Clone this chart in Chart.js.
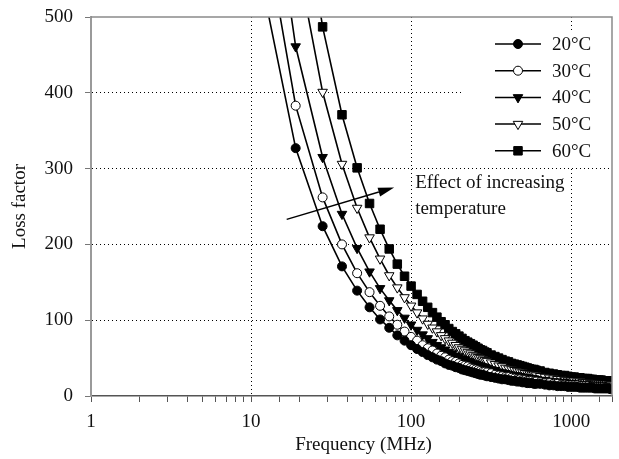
<!DOCTYPE html>
<html>
<head>
<meta charset="utf-8">
<title>Loss factor vs frequency</title>
<script src="https://cdn.jsdelivr.net/npm/chart.js@4.4.1/dist/chart.umd.min.js"></script>
<style>
  html, body { margin: 0; padding: 0; background: #fff; }
  #wrap { width: 619px; height: 459px; }
</style>
</head>
<body>
<div id="wrap"><canvas id="lossChart" width="619" height="459"></canvas></div>
<script>
// Frequency points (MHz)
const freq = [10,19,28,37,46,55,64,73,82,91,100,109,118,127,136,145,154,163,172,181,190,199,208,217,226,235,244,253,262,271,280,289,298,
  316,334,352,370,388,406,424,442,460,478,496,514,532,550,568,586,604,
  640,685,730,775,820,865,910,955,1000,1045,1090,1135,1180,1225,1270,1315,1360,1405,1450,1495,1540,1585,1630,1675,1720,1765];

// Loss factor readings, one array per temperature
const loss20 = [616,327,224,171,139,117,101,90,80,73,67,62,58,54,51,48,46,43,41,40,38,37,35,34,33,32,31,30,29,28,28,27,26,
  25,24,23,22,22,21,20,20,19,19,18,18,17,17,17,16,16,
  16,15,14,14,13,13,13,12,12,12,12,11,11,11,11,11,11,10,10,10,10,10,10,10,10,9];
const loss30 = [721,383,262,200,162,137,119,105,94,85,78,73,67,63,60,56,53,51,48,46,45,43,41,40,39,37,36,35,34,33,32,32,31,
  30,28,27,26,25,25,24,23,22,22,21,21,20,20,20,19,19,
  18,17,17,16,16,15,15,14,14,14,14,13,13,13,13,12,12,12,12,12,12,12,11,11,11,11];
const loss40 = [868,461,315,240,195,164,142,126,113,103,94,87,81,76,71,67,64,61,58,56,53,51,49,48,46,45,43,42,41,40,39,38,37,
  35,34,32,31,30,29,28,27,27,26,25,25,24,24,23,23,22,
  21,21,20,19,19,18,18,17,17,16,16,16,15,15,15,15,14,14,14,14,14,13,13,13,13,13];
const loss50 = [1107,587,401,306,248,209,181,159,143,130,119,110,102,95,90,85,80,76,73,70,67,64,62,60,58,56,54,52,51,50,48,47,46,
  44,42,40,39,37,36,35,34,33,32,31,30,30,29,28,28,27,
  26,25,24,23,22,22,21,20,20,20,19,19,18,18,18,17,17,17,17,16,16,16,16,16,15,15];
const loss60 = [1342,712,487,371,301,254,220,194,174,158,145,134,125,117,110,104,98,94,89,85,82,79,76,73,71,69,67,65,63,61,60,58,57,
  54,52,50,48,46,45,43,42,41,40,39,38,37,36,35,35,34,
  33,31,30,29,28,27,27,26,25,25,24,24,23,23,23,22,22,21,21,21,21,20,20,20,20,20];

const seriesLabels = ['20°C', '30°C', '40°C', '50°C', '60°C'];
const seriesValues = [loss20, loss30, loss40, loss50, loss60];
const xTickLabels = [1, 10, 100, 1000];
const noteLines = ['Effect of increasing', 'temperature'];

const FONT = "'Liberation Serif', 'Times New Roman', serif";
const TEXT = '#111';

// marker look per series
const markers = [
  { style: 'circle', fill: '#000', r: 4.5, rot: 0 },
  { style: 'circle', fill: '#fff', r: 4.5, rot: 0 },
  { style: 'triangle', fill: '#000', r: 5.5, rot: 180 },
  { style: 'triangle', fill: '#fff', r: 5.5, rot: 180 },
  { style: 'rect', fill: '#000', r: 6, rot: 0 }
];

const datasets = seriesValues.map((vals, i) => ({
  label: seriesLabels[i],
  data: freq.map((f, j) => ({ x: f, y: vals[j] })),
  borderColor: '#000',
  borderWidth: 1.6,
  tension: 0,
  fill: false,
  pointStyle: markers[i].style,
  pointRadius: markers[i].r,
  pointRotation: markers[i].rot,
  pointBackgroundColor: markers[i].fill,
  pointBorderColor: '#000',
  pointBorderWidth: 1
}));

// borders, legend, arrow and note
const extras = {
  id: 'extras',
  afterDraw(chart) {
    const { ctx, chartArea: a, scales } = chart;
    ctx.save();

    // top and right frame
    ctx.strokeStyle = '#8a8a8a';
    ctx.lineWidth = 1.5;
    ctx.beginPath();
    ctx.moveTo(a.left, a.top);
    ctx.lineTo(a.right, a.top);
    ctx.lineTo(a.right, a.bottom);
    ctx.stroke();

    // legend box
    const lx = a.right - 149, ly = a.top + 16;
    ctx.fillStyle = '#fff';
    ctx.fillRect(lx, ly, 146, 133);
    ctx.font = '19px ' + FONT;
    ctx.textBaseline = 'middle';
    ctx.textAlign = 'left';
    seriesLabels.forEach((lab, i) => {
      const y = a.top + 27 + i * 26.7;
      ctx.strokeStyle = '#000';
      ctx.lineWidth = 1.5;
      ctx.beginPath();
      ctx.moveTo(lx + 32, y);
      ctx.lineTo(lx + 78, y);
      ctx.stroke();
      ctx.fillStyle = markers[i].fill;
      ctx.strokeStyle = '#000';
      ctx.lineWidth = 1;
      Chart.helpers.drawPoint(ctx, {
        pointStyle: markers[i].style, radius: markers[i].r,
        rotation: markers[i].rot, borderWidth: 1
      }, lx + 55, y);
      ctx.fillStyle = TEXT;
      ctx.fillText(lab, lx + 89, y + 1);
    });

    // arrow showing the temperature trend
    const x0 = scales.x.getPixelForValue(16.7), y0 = scales.y.getPixelForValue(233);
    const x1 = scales.x.getPixelForValue(78.4), y1 = scales.y.getPixelForValue(275);
    const ang = Math.atan2(y1 - y0, x1 - x0);
    const hl = 16, hw = 4.5;
    const bx = x1 - hl * Math.cos(ang), by = y1 - hl * Math.sin(ang);
    ctx.strokeStyle = '#000';
    ctx.lineWidth = 1.5;
    ctx.beginPath();
    ctx.moveTo(x0, y0);
    ctx.lineTo(bx, by);
    ctx.stroke();
    ctx.fillStyle = '#000';
    ctx.beginPath();
    ctx.moveTo(x1, y1);
    ctx.lineTo(bx + hw * Math.sin(ang), by - hw * Math.cos(ang));
    ctx.lineTo(bx - hw * Math.sin(ang), by + hw * Math.cos(ang));
    ctx.closePath();
    ctx.fill();

    // note text
    ctx.fillStyle = TEXT;
    ctx.font = '19px ' + FONT;
    ctx.textAlign = 'left';
    ctx.textBaseline = 'middle';
    const nx = scales.x.getPixelForValue(106);
    ctx.fillText(noteLines[0], nx, scales.y.getPixelForValue(281));
    ctx.fillText(noteLines[1], nx, scales.y.getPixelForValue(247));

    // x axis title
    ctx.textAlign = 'center';
    ctx.fillText('Frequency (MHz)', (a.left + a.right) / 2 + 12, 445);
    ctx.restore();
  }
};

new Chart(document.getElementById('lossChart'), {
  type: 'line',
  data: { datasets },
  options: {
    responsive: false,
    animation: false,
    layout: { padding: { top: 17, right: 3, left: 0, bottom: 0 } },
    plugins: { legend: { display: false }, tooltip: { enabled: false } },
    scales: {
      x: {
        type: 'logarithmic',
        min: 1,
        max: 1800,
        ticks: {
          autoSkip: false,
          maxRotation: 0,
          padding: 9,
          color: TEXT,
          font: { family: FONT, size: 19 },
          callback: v => xTickLabels.includes(v) ? String(v) : ''
        },
        grid: {
          color: c => (c.tick && [10, 100, 1000].includes(c.tick.value)) ? '#000' : 'rgba(0,0,0,0)',
          lineWidth: 1,
          tickLength: 6,
          tickColor: '#555',
          tickBorderDash: []
        },
        border: { color: '#555', width: 1.5, dash: [1, 3] },
        afterFit: s => {
          s.height = 63;
          s.paddingLeft = 0;
          s.paddingRight = 0;
        }
      },
      y: {
        min: 0,
        max: 500,
        ticks: {
          stepSize: 100,
          padding: 12,
          color: TEXT,
          font: { family: FONT, size: 19 }
        },
        grid: {
          color: c => (c.tick && (c.tick.value === 0 || c.tick.value === 500)) ? 'rgba(0,0,0,0)' : '#000',
          lineWidth: 1,
          tickLength: 6,
          tickColor: '#777',
          tickBorderDash: []
        },
        border: { color: '#9a9a9a', width: 2, dash: [1, 3] },
        title: {
          display: true,
          text: 'Loss factor',
          color: TEXT,
          font: { family: FONT, size: 19 },
          padding: { top: 9, bottom: 0 }
        },
        afterFit: s => {
          s.width = 91;
          s.paddingTop = 0;
          s.paddingBottom = 0;
        }
      }
    }
  },
  plugins: [extras]
});
</script>
</body>
</html>
